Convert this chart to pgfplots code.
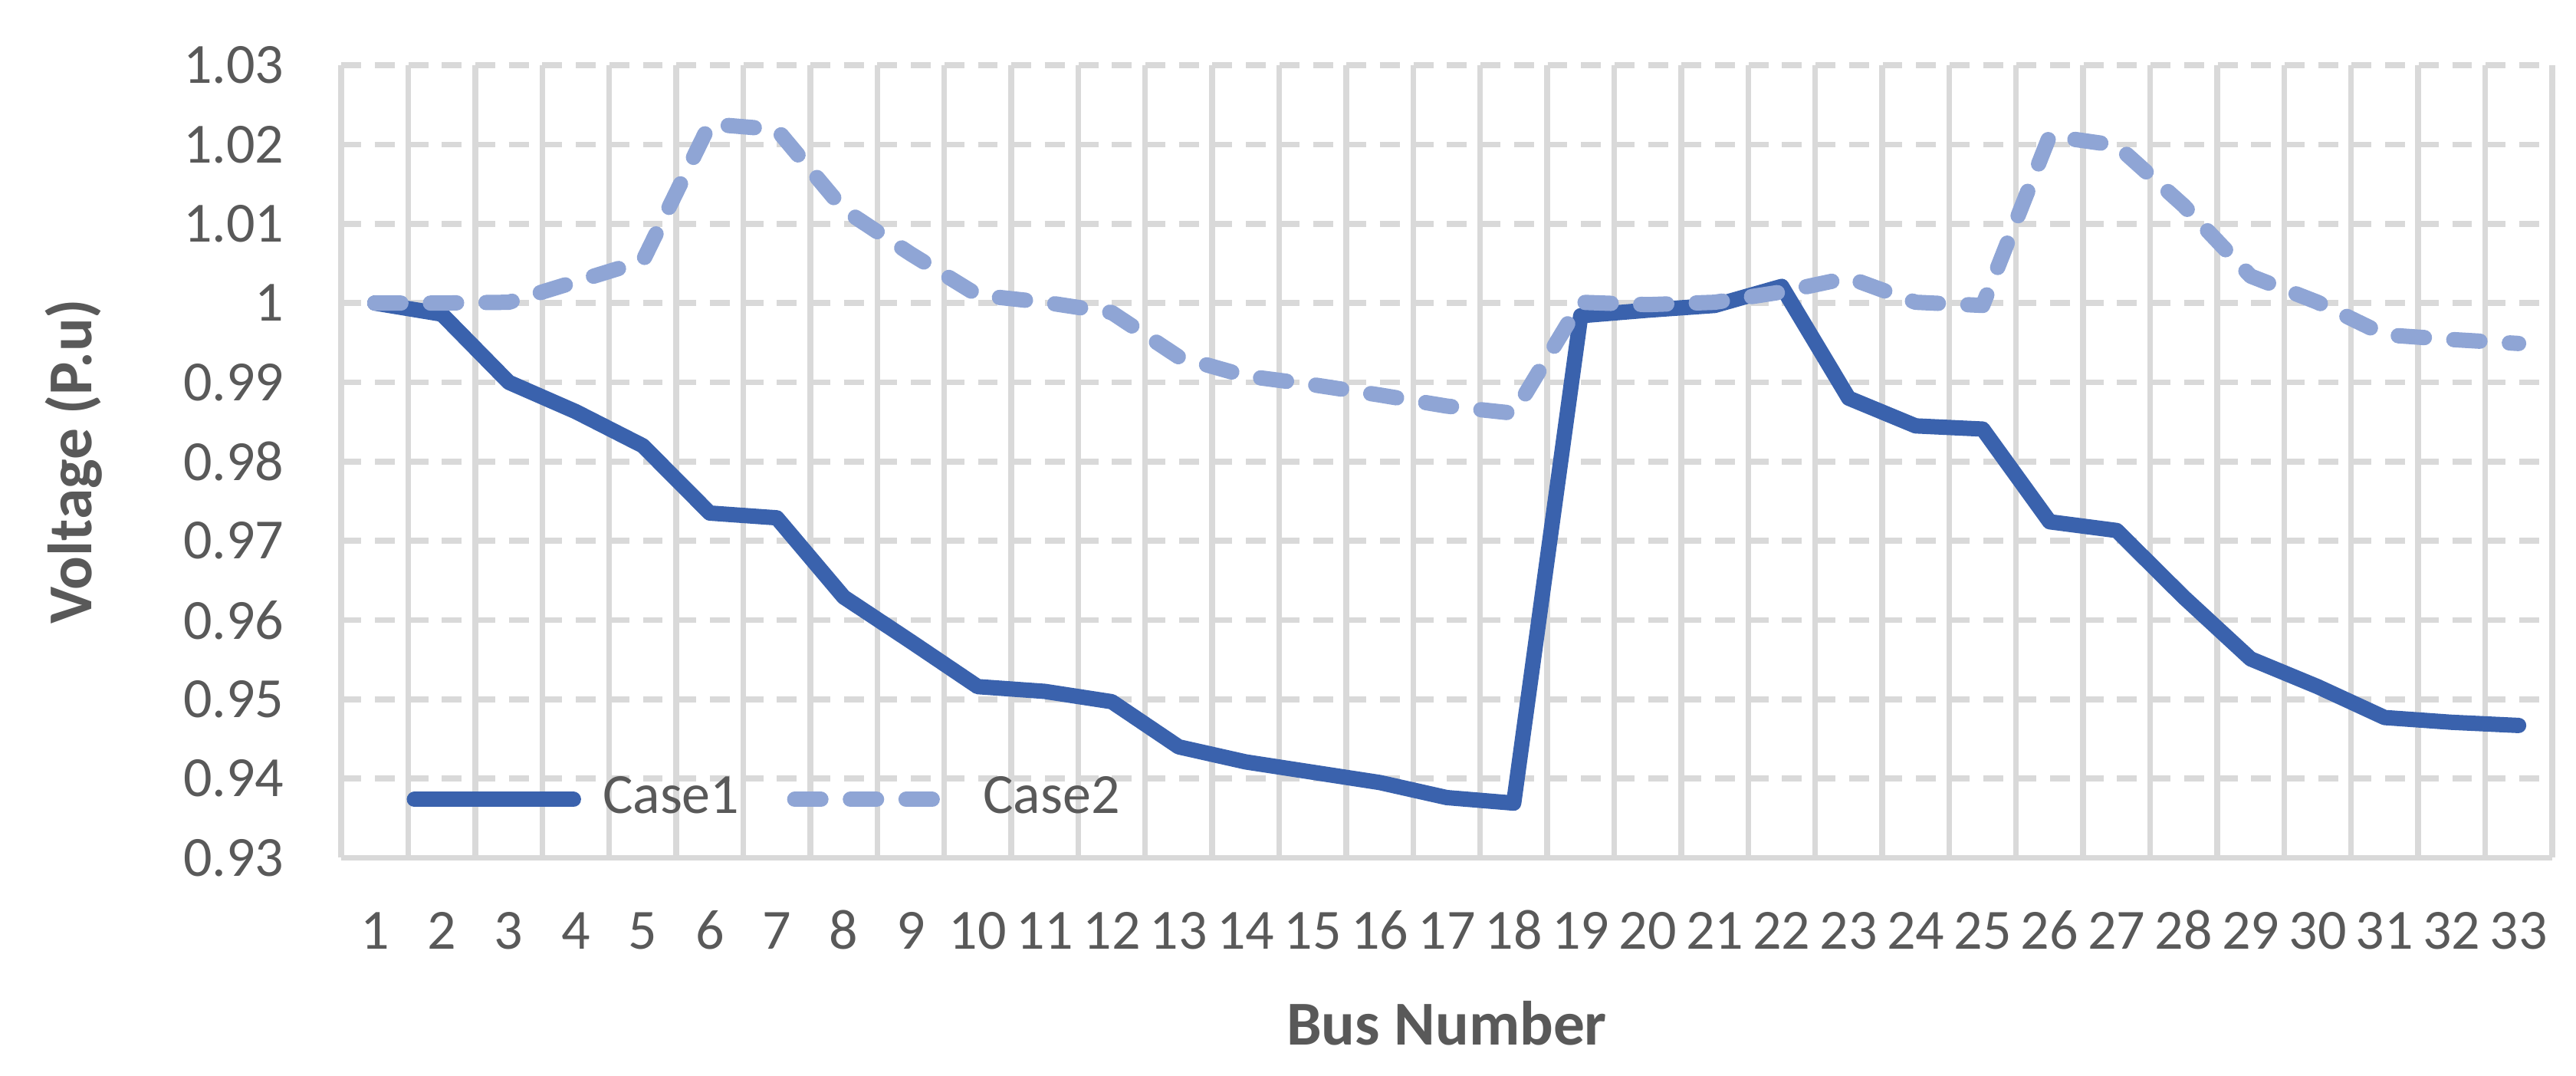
\documentclass[border=0pt]{standalone}
\usepackage{fontspec}
\setmainfont{Carlito}
\usepackage{pgfplots}
\pgfplotsset{compat=1.18}

\definecolor{caseone}{HTML}{3A62AD}
\definecolor{casetwo}{HTML}{8FA5D5}
\definecolor{gridgray}{HTML}{D9D9D9}
\definecolor{txtgray}{HTML}{595959}

\pgfplotstableread{
bus case1 case2
1  1.0000 1.0000
2  0.9986 1.0000
3  0.9900 1.0001
4  0.9863 1.0027
5  0.9820 1.0053
6  0.9735 1.0226
7  0.9729 1.0219
8  0.9629 1.0118
9  0.9573 1.0062
10 0.9516 1.0010
11 0.9510 1.0001
12 0.9497 0.9988
13 0.9440 0.9932
14 0.9421 0.9908
15 0.9408 0.9897
16 0.9395 0.9884
17 0.9376 0.9870
18 0.9369 0.9861
19 0.9984 1.0001
20 0.9991 0.9998
21 0.9997 1.0001
22 1.0021 1.0014
23 0.9880 1.0032
24 0.9845 1.0001
25 0.9841 0.9997
26 0.9724 1.0211
27 0.9713 1.0199
28 0.9629 1.0123
29 0.9551 1.0034
30 0.9516 1.0001
31 0.9477 0.9960
32 0.9471 0.9954
33 0.9467 0.9949
}\voltdata

\begin{document}
\begin{tikzpicture}
% page size: same proportions as the reference
\path (-60.1pt,-38.3pt) rectangle (393.5pt,151pt);
\begin{axis}[
  at={(0,0)}, anchor=south west,
  scale only axis, width=389.3pt, height=139.5pt,
  xmin=0.5, xmax=33.5, ymin=0.93, ymax=1.03,
  xtick={1,...,33},
  minor xtick={0.5,1.5,...,33.5},
  ytick={0.93,0.94,0.95,0.96,0.97,0.98,0.99,1,1.01,1.02,1.03},
  major tick length=0pt, minor tick length=0pt,
  axis x line*=bottom, axis y line*=left,
  x axis line style={draw=gridgray, line width=1pt},
  y axis line style={draw=none},
  minor x grid style={draw=gridgray, line width=1pt, solid},
  xminorgrids,
  ymajorgrids,
  major grid style={draw=gridgray, line width=1pt, dash pattern=on 3.5pt off 2.4pt},
  /pgf/number format/assume math mode=true,
  ticklabel style={font=\fontsize{10}{12}\selectfont, text=txtgray, inner sep=0pt},
  yticklabel style={anchor=east, xshift=-9.9pt},
  xticklabel style={anchor=base, yshift=-16.1pt},
  xlabel={Bus Number}, ylabel={Voltage (P.u)},
  label style={font=\fontsize{11}{13}\selectfont\bfseries, text=txtgray, inner sep=0pt},
  xlabel style={at={(axis description cs:0.5,-0.2358)}, anchor=base},
  ylabel style={at={(axis description cs:-0.1128,0.5)}, anchor=base},
  legend columns=2,
  legend style={draw=none, fill=none, at={(0.026,0.0736)}, anchor=west,
    font=\fontsize{10}{12}\selectfont, text=txtgray,
    inner sep=0pt, outer sep=0pt,
    nodes={inner sep=0pt},
    /tikz/every even column/.append style={column sep=7pt}},
  legend image code/.code={\draw[#1] (1.4pt,0pt) -- (29.4pt,0pt);
    \path (0pt,0pt) (33.2pt,0pt);},
]
\addplot[caseone, line width=2.7pt, line join=round, line cap=round]
  table[x=bus, y=case1]{\voltdata};
\addlegendentry{Case1}
\addplot[casetwo, line width=2.7pt, line join=round, line cap=round,
  dash pattern=on 4.6pt off 5.2pt]
  table[x=bus, y=case2]{\voltdata};
\addlegendentry{Case2}
\end{axis}
\end{tikzpicture}
\end{document}
